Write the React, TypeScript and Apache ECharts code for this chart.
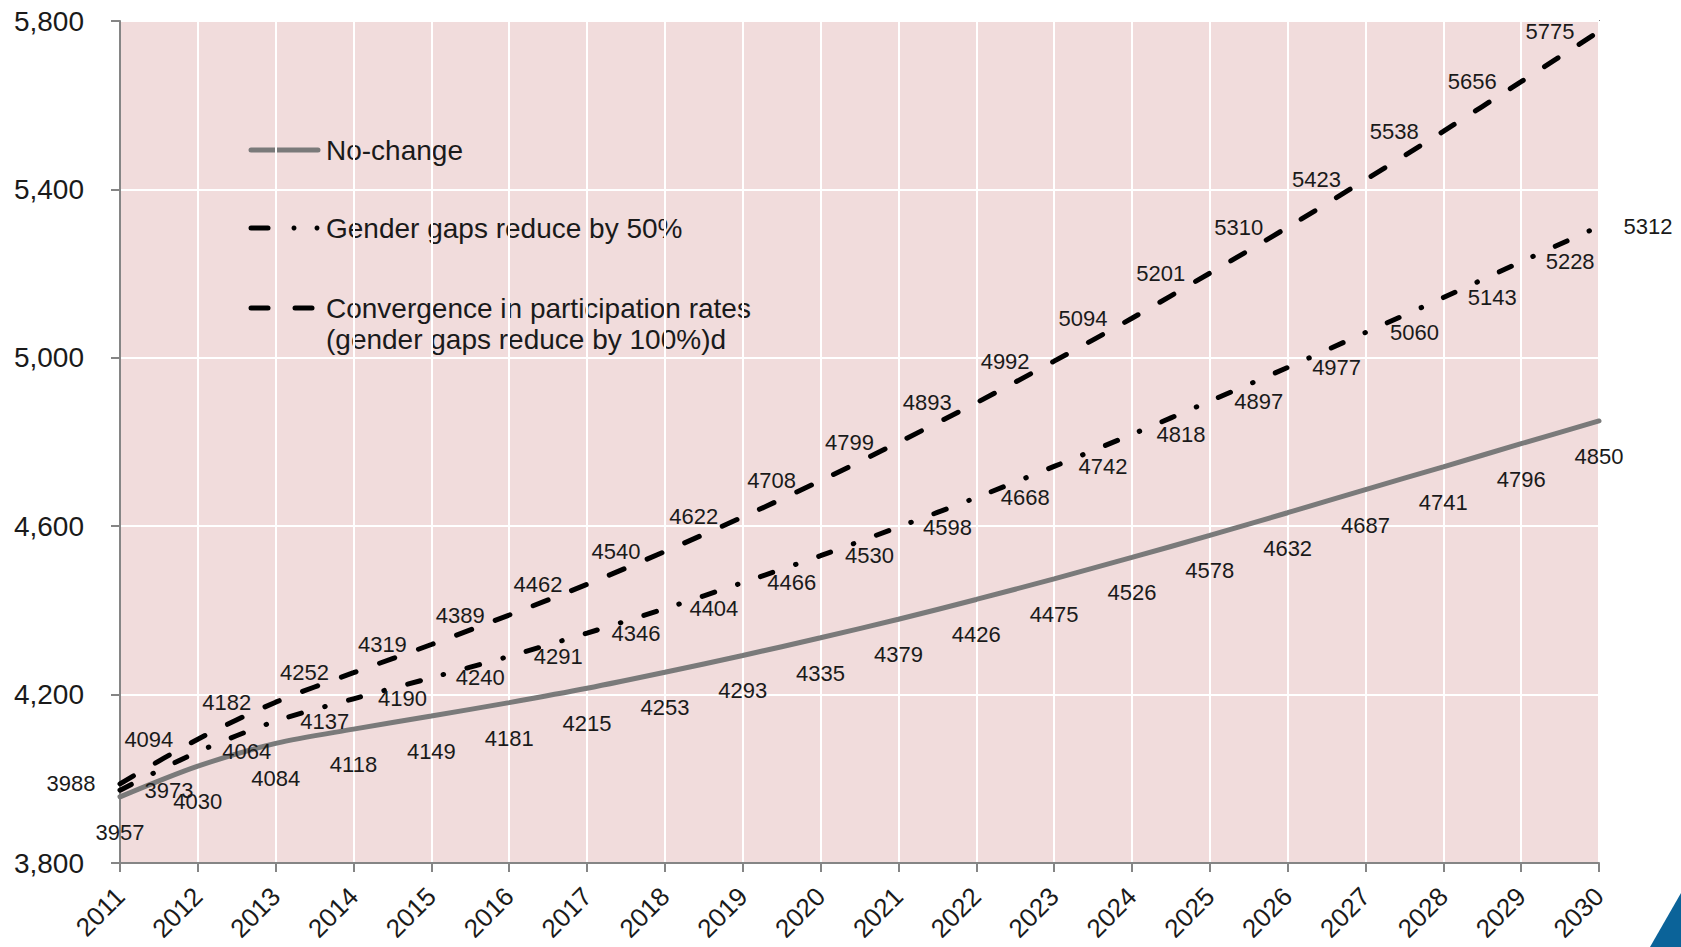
import React, { useEffect, useRef } from "react";
import * as echarts from "echarts";

const years = ["2011", "2012", "2013", "2014", "2015", "2016", "2017", "2018", "2019", "2020", "2021", "2022", "2023", "2024", "2025", "2026", "2027", "2028", "2029", "2030"];
const noChange = [3957, 4030, 4084, 4118, 4149, 4181, 4215, 4253, 4293, 4335, 4379, 4426, 4475, 4526, 4578, 4632, 4687, 4741, 4796, 4850];
const gapsHalf = [3973, 4064, 4137, 4190, 4240, 4291, 4346, 4404, 4466, 4530, 4598, 4668, 4742, 4818, 4897, 4977, 5060, 5143, 5228, 5312];
const convergence = [3988, 4094, 4182, 4252, 4319, 4389, 4462, 4540, 4622, 4708, 4799, 4893, 4992, 5094, 5201, 5310, 5423, 5538, 5656, 5775];
const seriesNames = ["No-change", "Gender gaps reduce by 50%", "Convergence in participation rates", "(gender gaps reduce by 100%)d"];
const yMin = 3800;
const yMax = 5800;
const yStep = 400;

const FONT = "'Liberation Sans', Arial, sans-serif";
const TEXT = "#1a1a1a";
const AXIS = "#858585";

export default function App() {
  const ref = useRef<HTMLDivElement>(null);
  useEffect(() => {
    document.body.style.margin = "0";
    const chart = echarts.init(ref.current!, null, { renderer: "svg" });
    const labelBase = { show: true, fontSize: 22, color: TEXT, fontFamily: FONT, distance: 24 };
    chart.setOption({
      animation: false,
      backgroundColor: "#ffffff",
      grid: {
        left: 120, top: 21, right: 82, bottom: 84,
        show: true, backgroundColor: "#F1DCDC", borderColor: AXIS, borderWidth: 2,
        containLabel: false,
        outerBoundsMode: "none",
      },
      xAxis: {
        type: "category",
        data: years,
        boundaryGap: false,
        axisLine: { lineStyle: { color: AXIS, width: 2 } },
        axisTick: { show: true, length: 9, lineStyle: { color: AXIS, width: 2 } },
        axisLabel: { rotate: 45, fontSize: 26, color: TEXT, fontFamily: FONT, margin: 29, interval: 0 },
        splitLine: { show: true, lineStyle: { color: "#ffffff", width: 2 } },
      },
      yAxis: {
        type: "value",
        min: yMin,
        max: yMax,
        interval: yStep,
        axisLine: { show: true, lineStyle: { color: AXIS, width: 2 } },
        axisTick: { show: true, length: 9, lineStyle: { color: AXIS, width: 2 } },
        axisLabel: {
          fontSize: 28, color: TEXT, fontFamily: FONT, margin: 36,
          formatter: (v: number) => v.toLocaleString("en-US"),
        },
        splitLine: { show: true, lineStyle: { color: "#ffffff", width: 2 } },
      },
      series: [
        {
          name: seriesNames[0], type: "line", data: noChange, smooth: 0.3, clip: false,
          symbol: "circle", symbolSize: 1, showSymbol: true, itemStyle: { color: "rgba(0,0,0,0)" },
          lineStyle: { color: "#7a7a7a", width: 5, cap: "round" },
          label: { ...labelBase, position: "bottom" },
        },
        {
          name: seriesNames[1], type: "line", data: gapsHalf, smooth: 0.3, clip: false,
          symbol: "circle", symbolSize: 1, showSymbol: true, itemStyle: { color: "rgba(0,0,0,0)" },
          lineStyle: { color: "#000000", width: 5, cap: "round", type: [13, 24, 0.5, 24] },
          label: { ...labelBase, position: "right" },
        },
        {
          name: seriesNames[2], type: "line", data: convergence, smooth: 0.3, clip: false,
          symbol: "circle", symbolSize: 1, showSymbol: true, itemStyle: { color: "rgba(0,0,0,0)" },
          lineStyle: { color: "#000000", width: 5, cap: "round", type: [16, 25] },
          label: { ...labelBase, position: "left" },
        },
      ],
      graphic: [
        { type: "line", shape: { x1: 251, y1: 150, x2: 318, y2: 150 }, style: { stroke: "#7a7a7a", lineWidth: 5, lineCap: "round" } },
        { type: "text", x: 326, y: 150, style: { text: seriesNames[0], fontSize: 28, fontFamily: FONT, fill: TEXT, verticalAlign: "middle" } },
        { type: "line", shape: { x1: 251, y1: 228, x2: 268, y2: 228 }, style: { stroke: "#000", lineWidth: 5, lineCap: "round" } },
        { type: "circle", shape: { cx: 294, cy: 228, r: 2.5 }, style: { fill: "#000" } },
        { type: "circle", shape: { cx: 317, cy: 228, r: 2.5 }, style: { fill: "#000" } },
        { type: "text", x: 326, y: 228, style: { text: seriesNames[1], fontSize: 28, fontFamily: FONT, fill: TEXT, verticalAlign: "middle" } },
        { type: "line", shape: { x1: 251, y1: 308, x2: 268, y2: 308 }, style: { stroke: "#000", lineWidth: 5, lineCap: "round" } },
        { type: "line", shape: { x1: 295, y1: 308, x2: 312, y2: 308 }, style: { stroke: "#000", lineWidth: 5, lineCap: "round" } },
        { type: "text", x: 326, y: 308, style: { text: seriesNames[2], fontSize: 28, fontFamily: FONT, fill: TEXT, verticalAlign: "middle" } },
        { type: "text", x: 326, y: 339, style: { text: seriesNames[3], fontSize: 28, fontFamily: FONT, fill: TEXT, verticalAlign: "middle" } },
        { type: "polygon", shape: { points: [[1650, 947], [1681, 893], [1681, 947]] }, style: { fill: "#0b6399" } },
      ],
    });
    return () => chart.dispose();
  }, []);
  return <div ref={ref} style={{ position: "fixed", left: 0, top: 0, width: "100vw", height: "100vh" }} />;
}
